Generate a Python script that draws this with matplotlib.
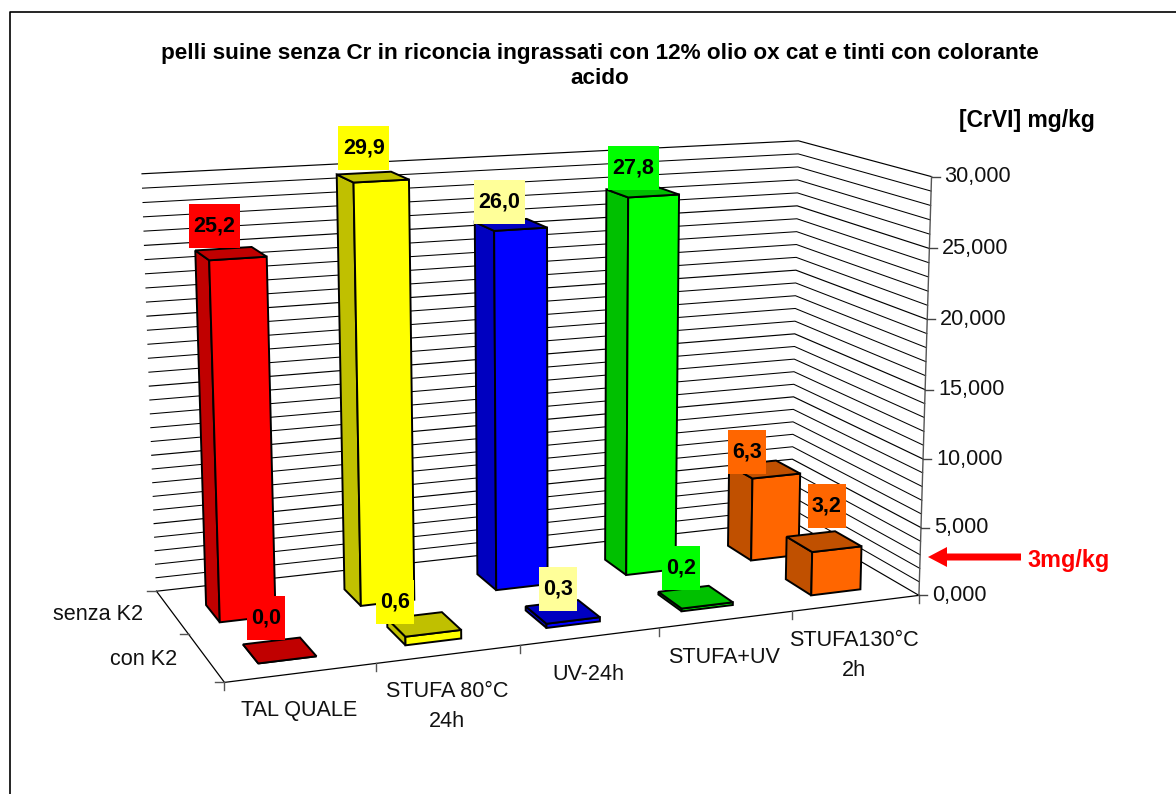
import numpy as np
import matplotlib
matplotlib.use("Agg")
import matplotlib.pyplot as plt
from matplotlib.patches import Polygon, Rectangle

plt.rcParams["font.family"] = ["Liberation Sans", "DejaVu Sans"]

categories = ["TAL QUALE", "STUFA 80°C\n24h", "UV-24h", "STUFA+UV", "STUFA130°C\n2h"]
series_names = ["con K2", "senza K2"]
senza_k2 = [25.2, 29.9, 26.0, 27.8, 6.3]
con_k2 = [0.0, 0.6, 0.3, 0.2, 3.2]
value_ticks = [0, 5, 10, 15, 20, 25, 30]

front_colors = ["#FF0000", "#FFFF00", "#0000FF", "#00FF00", "#FF6600"]
dark_colors = ["#C00000", "#C0C000", "#0000C0", "#00C000", "#C05000"]
label_colors = ["#FF0000", "#FFFF00", "#FFFF99", "#00FF00", "#FF6600"]

# labels were dragged by hand in the original, so each has its own nudge (px)
nudge_senza = [(-13, 5), (-4, 3), (-5, 9), (-2, 8), (-9, 17)]
nudge_con = [(-8, -1), (-23, 9), (2, 8), (-8, 2), (10, -5)]

# where the corners of the 3d box land in the picture (cat, series, value) -> px
corners = [
    ((0, 0, 0), (225, 679)), ((5, 0, 0), (918, 600)),
    ((0, 2, 0), (156, 595)), ((5, 2, 0), (792, 516)),
    ((5, 0, 30), (932, 175)), ((0, 2, 30), (142, 173)),
    ((5, 2, 30), (798, 143)),
]
rows = []
rhs = []
for (a, b, c), (u, v) in corners:
    rows.append([a, b, c, 1, 0, 0, 0, 0, -u * a, -u * b, -u * c])
    rows.append([0, 0, 0, 0, a, b, c, 1, -v * a, -v * b, -v * c])
    rhs += [u, v]
cam = np.append(np.linalg.lstsq(np.array(rows, float), np.array(rhs, float), rcond=None)[0], 1).reshape(3, 4)


def project(cat, ser, val):
    p = cam @ np.array([cat, ser, val, 1.0])
    return p[0] / p[2], p[1] / p[2]


fig = plt.figure(figsize=(11.76, 7.94), dpi=100)
ax = fig.add_axes([0, 0, 1, 1])
ax.set_xlim(0, 1176)
ax.set_ylim(794, 0)
ax.axis("off")

# chart frame, cut off right and below in the original
ax.plot([10, 10, 1176], [794, 12, 12], color="black", lw=1.2)

# walls
for v in range(0, 31):
    lw = 0.85 if v % 5 == 0 else 0.75
    pts = [project(0, 2, v), project(5, 2, v), project(5, 0, v)]
    ax.plot(*zip(*pts), color="black", lw=lw, zorder=1)

# floor edges and axes
ax.plot(*zip(project(0, 2, 0), project(0, 0, 0), project(5, 0, 0)), color="black", lw=0.9, zorder=1)
ax.plot(*zip(project(5, 0, 0), project(5, 0, 30)), color="#555555", lw=1, zorder=1)

for i in range(6):
    x, y = project(i, 0, 0)
    ax.plot([x, x], [y, y + 8], color="#555555", lw=1, zorder=1)
for s in range(3):
    x, y = project(0, s, 0)
    ax.plot([x - 9, x], [y, y], color="#555555", lw=1, zorder=1)
for v in value_ticks:
    x, y = project(5, 0, v)
    ax.plot([x, x + 8], [y, y], color="#444444", lw=1, zorder=1)
    ax.text(x + 13, y, f"{v},000", fontsize=15.6, va="center", ha="left", color="#111111")

for i, name in enumerate(categories):
    x, y = project(i + 0.5, 0, 0)
    ax.text(x - 2, y + 27, name, fontsize=15.6, ha="center", va="top", linespacing=1.55, color="#111111")
for s, name in enumerate(series_names):
    x, y = project(0, s + 0.5, 0)
    ax.text(x - 29, y + 2, name, fontsize=15.6, ha="right", va="center", color="#111111")

bar_w = 0.39
bar_d = 0.40


def draw_bar(cat, ser, val, face, dark, z):
    x0, x1 = cat + 0.29 - ser * 0.035, cat + 0.29 - ser * 0.035 + bar_w
    s0, s1 = ser * 0.9 + 0.27, ser * 0.9 + 0.27 + bar_d
    front = [project(x0, s0, 0), project(x1, s0, 0), project(x1, s0, val), project(x0, s0, val)]
    side = [project(x0, s0, 0), project(x0, s1, 0), project(x0, s1, val), project(x0, s0, val)]
    top = [project(x0, s0, val), project(x1, s0, val), project(x1, s1, val), project(x0, s1, val)]
    for poly, col in ((side, dark), (front, face), (top, dark)):
        ax.add_patch(Polygon(poly, closed=True, facecolor=col, edgecolor="black", lw=1.4, zorder=z, joinstyle="miter"))


def draw_label(cat, ser, val, text, col, nudge):
    x, y = project(cat + 0.47, ser + 0.55, val)
    x += nudge[0]
    y += nudge[1]
    w = 13 * (len(text) - 1) + 12
    ax.add_patch(Rectangle((x - w / 2, y - 50), w, 44, facecolor=col, edgecolor="none", zorder=20))
    ax.text(x, y - 28, text, fontsize=15.5, fontweight="bold", ha="center", va="center", color="black", zorder=21)


z = 3
for i in range(5):
    draw_bar(i, 1, senza_k2[i], front_colors[i], dark_colors[i], z)
    z += 1
for i in range(5):
    draw_bar(i, 0, con_k2[i], front_colors[i], dark_colors[i], z)
    z += 1
for i in range(5):
    draw_label(i, 1, senza_k2[i], f"{senza_k2[i]:.1f}".replace(".", ","), label_colors[i], nudge_senza[i])
    draw_label(i, 0, con_k2[i], f"{con_k2[i]:.1f}".replace(".", ","), label_colors[i], nudge_con[i])

ax.text(600, 53, "pelli suine senza Cr in riconcia ingrassati con 12% olio ox cat e tinti con colorante",
        fontsize=16.2, fontweight="bold", ha="center", va="center")
ax.text(600, 79, "acido", fontsize=16.2, fontweight="bold", ha="center", va="center")
ax.text(1027, 120, "[CrVI] mg/kg", fontsize=16.5, fontweight="bold", ha="center", va="center")

ax.arrow(1021, 557, -93, 0, width=7, head_width=20, head_length=19, length_includes_head=True,
         color="#FF0000", lw=0)
ax.text(1069, 561, "3mg/kg", fontsize=16.8, fontweight="bold", color="#FF0000", ha="center", va="center")

fig.savefig("out.png", dpi=100)
